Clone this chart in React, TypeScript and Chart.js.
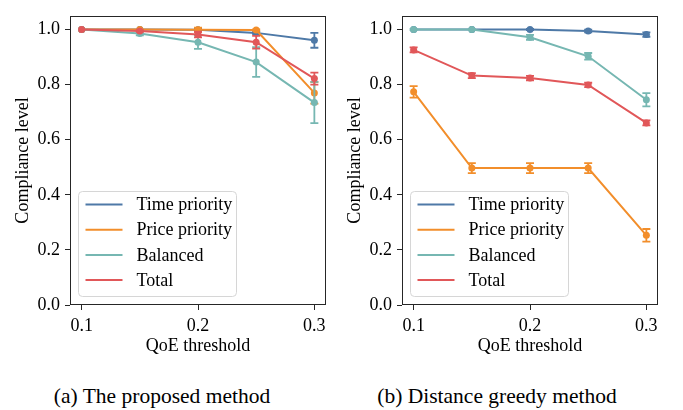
import React, { useEffect, useRef } from 'react';
import { Chart, registerables } from 'chart.js';

Chart.register(...registerables);

const thresholds = [0.1, 0.15, 0.2, 0.25, 0.3];
const seriesNames = ['Time priority', 'Price priority', 'Balanced', 'Total'];
const seriesColors = ['#4E79A7', '#F28E2B', '#76B7B2', '#E15759'];
const xTicks = [0.1, 0.2, 0.3];
const yTicks = [0, 0.2, 0.4, 0.6, 0.8, 1.0];
const xTitle = 'QoE threshold';
const yTitle = 'Compliance level';
const captions = ['(a) The proposed method', '(b) Distance greedy method'];

// (a) proposed method
const proposedTime = [1.0, 1.0, 0.999, 0.988, 0.961];
const proposedTimeErr = [0, 0, 0.005, 0.004, 0.027];
const proposedPrice = [1.0, 1.0, 0.999, 0.998, 0.770];
const proposedPriceErr = [0, 0, 0.008, 0.003, 0.039];
const proposedBalanced = [1.0, 0.986, 0.954, 0.882, 0.735];
const proposedBalancedErr = [0, 0.007, 0.024, 0.054, 0.075];
const proposedTotal = [1.0, 0.995, 0.982, 0.954, 0.822];
const proposedTotalErr = [0, 0.003, 0.01, 0.023, 0.022];

// (b) distance greedy method
const greedyTime = [1.0, 1.0, 1.0, 0.995, 0.982];
const greedyTimeErr = [0, 0, 0.002, 0.005, 0.008];
const greedyPrice = [0.774, 0.497, 0.497, 0.497, 0.253];
const greedyPriceErr = [0.021, 0.018, 0.018, 0.018, 0.023];
const greedyBalanced = [1.0, 1.0, 0.972, 0.903, 0.745];
const greedyBalancedErr = [0.002, 0.002, 0.009, 0.012, 0.024];
const greedyTotal = [0.926, 0.833, 0.824, 0.799, 0.661];
const greedyTotalErr = [0.009, 0.009, 0.008, 0.008, 0.009];

const FONT = 'Liberation Serif';
const FRAME = '#262626';

const errorBarPlugin = {
  id: 'errorBars',
  beforeDatasetDraw(chart: any, args: any) {
    const ds: any = chart.data.datasets[args.index];
    const errs: number[] = ds.errors || [];
    const ys = chart.scales.y;
    const ctx = chart.ctx;
    ctx.save();
    ctx.strokeStyle = ds.borderColor;
    ctx.lineWidth = 1.8;
    args.meta.data.forEach((pt: any, i: number) => {
      const e = errs[i] || 0;
      if (!e) return;
      const raw = ds.data[i];
      const v = typeof raw === 'object' ? raw.y : raw;
      const y1 = ys.getPixelForValue(v + e);
      const y2 = ys.getPixelForValue(v - e);
      ctx.beginPath();
      ctx.moveTo(pt.x, y1);
      ctx.lineTo(pt.x, y2);
      ctx.moveTo(pt.x - 4, y1);
      ctx.lineTo(pt.x + 4, y1);
      ctx.moveTo(pt.x - 4, y2);
      ctx.lineTo(pt.x + 4, y2);
      ctx.stroke();
    });
    ctx.restore();
  },
};

const frameLegendPlugin = {
  id: 'frameLegend',
  afterDraw(chart: any) {
    const { ctx, chartArea } = chart;
    ctx.save();
    ctx.strokeStyle = FRAME;
    ctx.lineWidth = 1;
    ctx.strokeRect(
      Math.round(chartArea.left) + 0.5,
      Math.round(chartArea.top) + 0.5,
      Math.round(chartArea.right - chartArea.left) - 1,
      Math.round(chartArea.bottom - chartArea.top) - 1
    );
    // legend box
    const w = 158;
    const h = 105;
    const bx = chartArea.left + 8.5;
    const by = chartArea.bottom - 8.5 - h;
    const r = 4;
    ctx.beginPath();
    ctx.moveTo(bx + r, by);
    ctx.lineTo(bx + w - r, by);
    ctx.arcTo(bx + w, by, bx + w, by + r, r);
    ctx.lineTo(bx + w, by + h - r);
    ctx.arcTo(bx + w, by + h, bx + w - r, by + h, r);
    ctx.lineTo(bx + r, by + h);
    ctx.arcTo(bx, by + h, bx, by + h - r, r);
    ctx.lineTo(bx, by + r);
    ctx.arcTo(bx, by, bx + r, by, r);
    ctx.closePath();
    ctx.fillStyle = 'rgba(255,255,255,0.8)';
    ctx.fill();
    ctx.strokeStyle = '#d6d6d6';
    ctx.lineWidth = 1;
    ctx.stroke();
    ctx.font = `18px "${FONT}"`;
    ctx.textBaseline = 'middle';
    ctx.textAlign = 'left';
    chart.data.datasets.forEach((ds: any, i: number) => {
      const yy = by + 13 + i * 25.2;
      ctx.strokeStyle = ds.borderColor;
      ctx.lineWidth = 2;
      ctx.beginPath();
      ctx.moveTo(bx + 7, yy);
      ctx.lineTo(bx + 44, yy);
      ctx.stroke();
      ctx.fillStyle = '#000';
      ctx.fillText(ds.label, bx + 58, yy + 1);
    });
    ctx.restore();
  },
};

function makeDatasets(values: number[][], errors: number[][]) {
  return values.map((vals, i) => ({
    label: seriesNames[i],
    data: vals.map((v, j) => ({ x: thresholds[j], y: v })),
    errors: errors[i],
    borderColor: seriesColors[i],
    backgroundColor: seriesColors[i],
    borderWidth: 2,
    pointRadius: 3.5,
    pointBorderWidth: 0,
    pointBackgroundColor: seriesColors[i],
    tension: 0,
    order: 4 - i,
  }));
}

function Panel(props: { values: number[][]; errors: number[][]; left: number }) {
  const ref = useRef<HTMLCanvasElement | null>(null);
  useEffect(() => {
    if (!ref.current) return;
    const tickFont = { family: FONT, size: 18 };
    const chart = new Chart(ref.current, {
      type: 'line',
      data: {
        datasets: makeDatasets(props.values, props.errors) as any,
      },
      options: {
        responsive: false,
        animation: false,
        devicePixelRatio: 1,
        layout: { padding: { left: 0, right: 14, top: 2, bottom: 0 } },
        plugins: { legend: { display: false }, tooltip: { enabled: false } },
        scales: {
          x: {
            type: 'linear',
            min: 0.09,
            max: 0.31,
            afterBuildTicks: (s: any) => {
              s.ticks = xTicks.map((v) => ({ value: v }));
            },
            afterFit: (s: any) => {
              s.height = 55;
            },
            ticks: {
              font: tickFont,
              color: '#000',
              padding: 5,
              maxRotation: 0,
              callback: (v: any) => Number(v).toFixed(1),
            },
            grid: { display: true, drawOnChartArea: false, drawTicks: true, tickLength: 5, color: FRAME, lineWidth: 1 },
            border: { display: false },
            title: { display: true, text: xTitle, font: tickFont, color: '#000', padding: { top: 0, bottom: 3 } },
          },
          y: {
            type: 'linear',
            min: 0,
            max: 1.05,
            afterBuildTicks: (s: any) => {
              s.ticks = yTicks.map((v) => ({ value: v }));
            },
            afterFit: (s: any) => {
              s.width = 70;
            },
            ticks: {
              font: tickFont,
              color: '#000',
              padding: 5,
              callback: (v: any) => Number(v).toFixed(1),
            },
            grid: { display: true, drawOnChartArea: false, drawTicks: true, tickLength: 5, color: FRAME, lineWidth: 1 },
            border: { display: false },
            title: { display: true, text: yTitle, font: tickFont, color: '#000', padding: { top: 12, bottom: 0 } },
          },
        },
      } as any,
      plugins: [errorBarPlugin, frameLegendPlugin],
    });
    return () => chart.destroy();
  }, []);
  return (
    <canvas
      ref={ref}
      width={340}
      height={360}
      style={{ position: 'absolute', left: props.left, top: 0, width: 340, height: 360 }}
    />
  );
}

export default function App() {
  return (
    <div style={{ position: 'absolute', left: 0, top: 0, width: 683, height: 410, background: '#fff', overflow: 'hidden' }}>
      <Panel
        left={0}
        values={[proposedTime, proposedPrice, proposedBalanced, proposedTotal]}
        errors={[proposedTimeErr, proposedPriceErr, proposedBalancedErr, proposedTotalErr]}
      />
      <Panel
        left={332}
        values={[greedyTime, greedyPrice, greedyBalanced, greedyTotal]}
        errors={[greedyTimeErr, greedyPriceErr, greedyBalancedErr, greedyTotalErr]}
      />
      {captions.map((c, i) => (
        <div
          key={c}
          style={{
            position: 'absolute',
            left: (i === 0 ? 162 : 497) - 170,
            width: 340,
            top: 384,
            lineHeight: '24px',
            textAlign: 'center',
            fontFamily: FONT,
            fontSize: 21.5,
            color: '#000',
          }}
        >
          {c}
        </div>
      ))}
    </div>
  );
}
